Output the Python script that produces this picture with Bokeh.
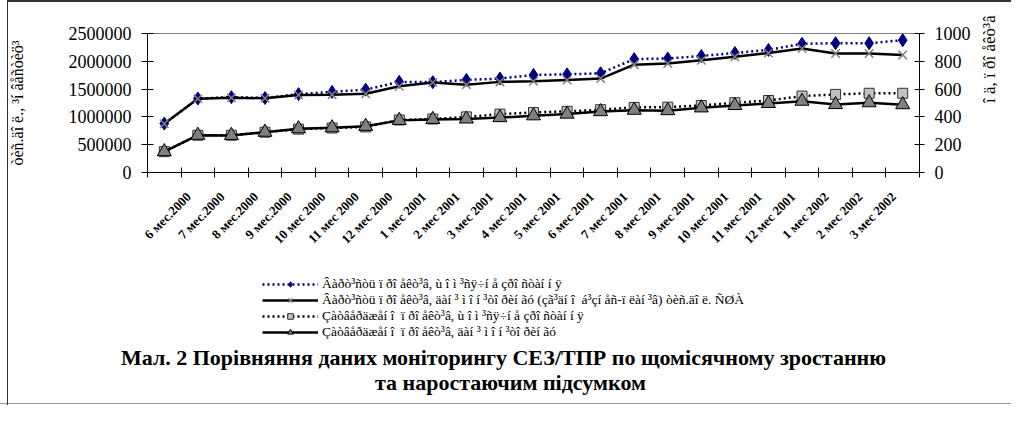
from bokeh.plotting import figure
from bokeh.layouts import column
from bokeh.models import (Range1d, LinearAxis, FixedTicker, NumeralTickFormatter,
                          Legend, LegendItem, Label)
from bokeh.embed import file_html
from bokeh.resources import INLINE
import math

# ---------------- data ----------------
months = ["", "6 мес.2000", "7 мес.2000", "8 мес.2000", "9 мес.2000", "10 мес 2000",
          "11 мес 2000", "12 мес 2000", "1 мес 2001", "2 мес 2001", "3 мес 2001",
          "4 мес 2001", "5 мес 2001", "6 мес 2001", "7 мес 2001", "8 мес 2001",
          "9 мес 2001", "10 мес 2001", "11 мес 2001", "12 мес 2001", "1 мес 2002",
          "2 мес 2002", "3 мес 2002"]

cost_monthly = [880000, 1330000, 1355000, 1340000, 1410000, 1450000, 1490000, 1630000,
                1625000, 1665000, 1690000, 1755000, 1765000, 1785000, 2040000, 2050000,
                2095000, 2150000, 2205000, 2315000, 2325000, 2325000, 2380000]
cost_monitor = [877000, 1325000, 1345000, 1335000, 1395000, 1400000, 1415000, 1550000,
                1620000, 1580000, 1630000, 1640000, 1665000, 1690000, 1940000, 1960000,
                2020000, 2080000, 2150000, 2230000, 2140000, 2140000, 2115000]
appr_monthly = [150, 268, 268, 290, 312, 320, 328, 378, 385, 400, 420, 432, 440, 452,
                468, 470, 482, 502, 518, 550, 562, 570, 570]
appr_monitor = [150, 268, 267, 290, 315, 322, 332, 375, 382, 385, 395, 408, 420, 438,
                448, 445, 465, 482, 497, 513, 489, 502, 488]

left_ticks = [0, 500000, 1000000, 1500000, 2000000, 2500000]
right_ticks = [0, 200, 400, 600, 800, 1000]

legend_labels = [
    "Âàðò³ñòü ï ðî åêò³â, ù î ì ³ñÿ÷í å çðî ñòàí í ÿ",
    "Âàðò³ñòü ï ðî åêò³â, äàí ³ ì î í ³òî ðèí ãó (çã³äí î  á³çí åñ-ï ëàí ³â) òèñ.äî ë. ÑØÀ",
    "Çàòâåðäæåí î  ï ðî åêò³â, ù î ì ³ñÿ÷í å çðî ñòàí í ÿ",
    "Çàòâåðäæåí î  ï ðî åêò³â, äàí ³ ì î í ³òî ðèí ãó",
]
left_title = "òèñ.äî ë., ³í âåñòèö³"
right_title = "î ä, ï ðî åêò³â"
title_1 = "Мал. 2 Порівняння даних моніторингу СЕЗ/ТПР по щомісячному зростанню"
title_2 = "та наростаючим підсумком"

series = [cost_monthly, cost_monitor, appr_monthly, appr_monitor]

xs = list(range(len(cost_monthly)))
SERIF = "Liberation Serif"

W = 1011
H1, H2 = 265, 140
BL, BT, FW, FH = 147, 33, 775, 139

# series styles (shared by chart and legend)
S1 = dict(line=dict(line_color="#000080", line_width=2.5, line_dash="2 3"),
          mark=dict(marker="diamond", size=13, fill_color="#000080", line_color="#000080"))
S2 = dict(line=dict(line_color="black", line_width=2.5),
          mark=dict(marker="x", size=12, line_color="#808080", line_width=1.5))
S3 = dict(line=dict(line_color="black", line_width=2.5, line_dash="2 3"),
          mark=dict(marker="square", size=10, fill_color="#C0C0C0", line_color="#333333",
                    line_width=1))
S4 = dict(line=dict(line_color="black", line_width=2.5),
          mark=dict(marker="triangle", size=14, fill_color="#808080", line_color="black",
                    line_width=1))
STYLES = [S1, S2, S3, S4]

# ---------------- chart ----------------
p = figure(width=W, height=H1, output_backend="svg", toolbar_location=None,
           x_range=Range1d(-0.5, len(xs) - 0.5), y_range=Range1d(0, 2500000),
           min_border_left=BL, min_border_right=W - BL - FW, min_border_top=BT,
           min_border_bottom=H1 - BT - FH,
           background_fill_color="white", border_fill_color=None)
p.extra_y_ranges = {"cnt": Range1d(0, 1000)}
p.grid.visible = False
p.outline_line_color = "#808080"
p.outline_line_width = 1

xa = p.xaxis[0]
label_pos = [i - 0.27 for i in range(1, len(months))]
xa.ticker = FixedTicker(ticks=label_pos, minor_ticks=[k - 0.5 for k in range(len(xs) + 1)])
xa.major_label_overrides = {t: months[i + 1] for i, t in enumerate(label_pos)}
xa.major_label_orientation = math.pi / 4
xa.major_tick_in = 0
xa.major_tick_out = 0
xa.minor_tick_in = 5
xa.minor_tick_out = 5
xa.minor_tick_line_color = "black"
xa.axis_line_color = "black"
xa.major_label_text_font = SERIF
xa.major_label_text_font_size = "13px"
xa.major_label_text_font_style = "bold"
xa.major_label_text_color = "black"
xa.major_label_standoff = 17

ya = p.yaxis[0]
ya.ticker = FixedTicker(ticks=left_ticks)
ya.formatter = NumeralTickFormatter(format="0")
ya.minor_tick_line_color = None
ya.major_tick_in = 6
ya.major_tick_out = 6
ya.major_label_standoff = 10
ya.major_label_text_font = SERIF
ya.major_label_text_font_size = "18px"
ya.major_label_text_color = "black"
ya.axis_line_color = "black"
ya.axis_label = left_title
ya.axis_label_text_font = SERIF
ya.axis_label_text_font_size = "16px"
ya.axis_label_text_font_style = "normal"
ya.axis_label_text_color = "black"
ya.axis_label_standoff = 40

ra = LinearAxis(y_range_name="cnt", ticker=FixedTicker(ticks=right_ticks))
ra.minor_tick_line_color = None
ra.major_tick_in = 5
ra.major_tick_out = 5
ra.major_label_standoff = 10
ra.major_label_text_font = SERIF
ra.major_label_text_font_size = "18px"
ra.major_label_text_color = "black"
ra.axis_line_color = "black"
ra.axis_label = right_title
ra.axis_label_text_font = SERIF
ra.axis_label_text_font_size = "17px"
ra.axis_label_text_font_style = "normal"
ra.axis_label_text_color = "black"
ra.axis_label_standoff = 16
ra.axis_label_text_align = "left"
try:
    ra.axis_label_orientation = math.pi / 2
except Exception:
    pass
p.add_layout(ra, "right")

for i, (vals, st) in enumerate(zip(series, STYLES)):
    extra = {} if i < 2 else {"y_range_name": "cnt"}
    p.line(xs, vals, **st["line"], **extra)
    p.scatter(xs, vals, **st["mark"], **extra)

# ---------------- legend + caption ----------------
q = figure(width=W, height=H2, output_backend="svg", toolbar_location=None,
           x_range=Range1d(0, W), y_range=Range1d(0, H2),
           x_axis_type=None, y_axis_type=None, min_border=0,
           background_fill_color=None, border_fill_color=None, outline_line_color=None)
q.grid.visible = False
off = 0
try:
    q.frame_align = False
    p.frame_align = False
except Exception:
    off = BL

# legend swatches: the same series drawn in the lower panel, outside its visible range
items = []
for lab, vals, st in zip(legend_labels, series, STYLES):
    lr = q.line(xs, vals, **st["line"])
    mr = q.scatter(xs, vals, **st["mark"])
    items.append(LegendItem(label=lab, renderers=[lr, mr]))

legend = Legend(items=items, location=(262 - off, 65), orientation="vertical",
                glyph_width=56, glyph_height=14, label_height=14, spacing=0, padding=0,
                margin=0, label_standoff=4, label_text_font=SERIF,
                label_text_font_size="13.5px", label_text_color="black",
                border_line_alpha=0, background_fill_alpha=0)
q.add_layout(legend, "center")

for txt, xx, yy in [(title_1, 503, 48), (title_2, 510, 23)]:
    q.add_layout(Label(x=xx - off, y=yy, x_units="screen", y_units="screen", text=txt,
                       text_align="center", text_baseline="middle", text_font=SERIF,
                       text_font_size="22px", text_font_style="bold", text_color="black"))

frame_css = ("linear-gradient(#333,#333) 7px 0 / 1px 100% no-repeat, "
             "linear-gradient(#333,#333) 7px 0 / 100% 2px no-repeat, "
             "linear-gradient(#999,#999) 0 403px / 100% 1px no-repeat")
layout = column(p, q, spacing=0, styles={"background": frame_css})

open("out.html", "w").write(file_html(layout, INLINE))
